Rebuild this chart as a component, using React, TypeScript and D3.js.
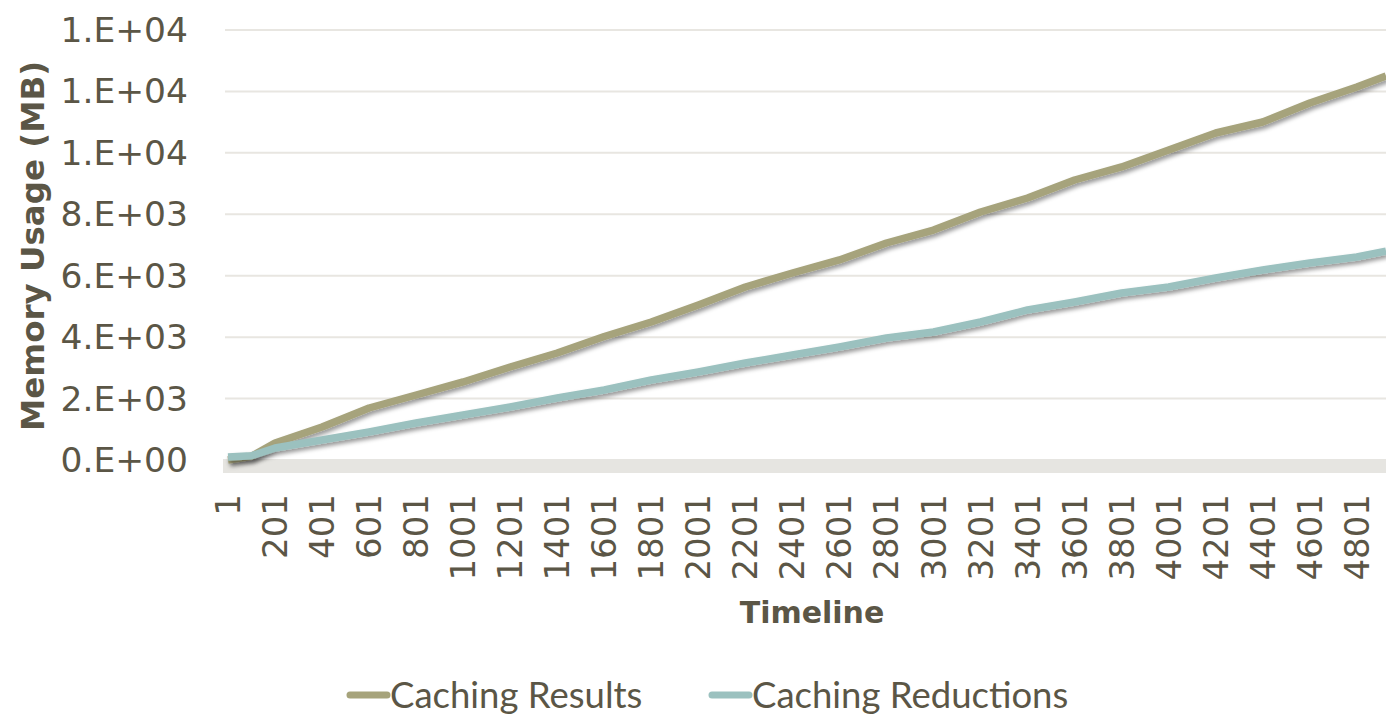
import React from "react";
import * as d3 from "d3";

const timeline = [1, 101, 201, 401, 601, 801, 1001, 1201, 1401, 1601, 1801, 2001, 2201, 2401, 2601, 2801, 3001, 3201, 3401, 3601, 3801, 4001, 4201, 4401, 4601, 4801, 4925];
const cachingResults = [0, 120, 553, 1074, 1693, 2116, 2540, 3028, 3484, 4020, 4493, 5047, 5633, 6088, 6512, 7065, 7488, 8074, 8530, 9116, 9540, 10093, 10647, 11005, 11623, 12144, 12500];
const cachingReductions = [100, 140, 390, 651, 912, 1205, 1465, 1726, 2019, 2279, 2605, 2865, 3158, 3419, 3679, 3972, 4167, 4493, 4884, 5144, 5437, 5633, 5926, 6186, 6414, 6609, 6800];
const xTickLabels = [1, 201, 401, 601, 801, 1001, 1201, 1401, 1601, 1801, 2001, 2201, 2401, 2601, 2801, 3001, 3201, 3401, 3601, 3801, 4001, 4201, 4401, 4601, 4801];
const yTicks = [0, 2000, 4000, 6000, 8000, 10000, 12000, 14000];
const seriesNames = ["Caching Results", "Caching Reductions"];
const seriesColors = ["#a6a37b", "#9bc1bf"];

const W = 1386;
const H = 717;
const textColor = "#5b5646";
const tickFont = "'DejaVu Sans', sans-serif";
const legendFont = "Lato, sans-serif";

function fmtExp(v: number): string {
  if (v === 0) return "0.E+00";
  const e = Math.floor(Math.log10(v));
  const m = Math.round(v / Math.pow(10, e));
  const s = String(Math.abs(e)).padStart(2, "0");
  return `${m}.E+${s}`;
}

export default function App() {
  const x = d3.scaleLinear().domain([1, 4925]).range([228, 1386]);
  const y = d3.scaleLinear().domain([0, 14000]).range([460, 30]);
  const line = d3
    .line<[number, number]>()
    .x((d) => x(d[0]))
    .y((d) => y(d[1]));
  const series = [cachingResults, cachingReductions].map((vals) =>
    timeline.map((t, i) => [t, vals[i]] as [number, number])
  );

  return (
    <svg
      width={W}
      height={H}
      style={{ position: "absolute", left: 0, top: 0, background: "#fff" }}
    >
      <defs>
        <filter id="shadow" x="-10%" y="-10%" width="120%" height="130%">
          <feDropShadow dx="2" dy="3" stdDeviation="2" floodColor="#000" floodOpacity="0.4" />
        </filter>
      </defs>
      {yTicks.slice(1).map((t) => (
        <line key={t} x1={225} x2={W} y1={y(t)} y2={y(t)} stroke="#e8e6e1" strokeWidth={2} />
      ))}
      <rect x={223} y={459} width={W - 223} height={14} fill="#e6e5e1" />
      {yTicks.map((t) => (
        <text
          key={t}
          x={188}
          y={y(t)}
          textAnchor="end"
          dominantBaseline="central"
          fontFamily={tickFont}
          fontSize={34.5}
          fill={textColor}
        >
          {fmtExp(t)}
        </text>
      ))}
      {xTickLabels.map((t) => (
        <text
          key={t}
          transform={`translate(${x(t)},494) rotate(-90)`}
          textAnchor="end"
          dominantBaseline="central"
          fontFamily={tickFont}
          fontSize={34}
          fill={textColor}
        >
          {t}
        </text>
      ))}
      {series.map((s, i) => (
        <path
          key={i}
          d={line(s) || ""}
          fill="none"
          stroke={seriesColors[i]}
          strokeWidth={7.5}
          strokeLinejoin="round"
          filter="url(#shadow)"
        />
      ))}
      <text
        transform="translate(33,246) rotate(-90)"
        textAnchor="middle"
        dominantBaseline="central"
        fontFamily={tickFont}
        fontWeight="bold"
        fontSize={32.5}
        fill={textColor}
      >
        Memory Usage (MB)
      </text>
      <text
        x={812}
        y={612}
        textAnchor="middle"
        dominantBaseline="central"
        fontFamily={tickFont}
        fontWeight="bold"
        fontSize={30}
        fill={textColor}
      >
        Timeline
      </text>
      {seriesNames.map((n, i) => {
        const lx = i === 0 ? 350 : 712;
        return (
          <g key={n}>
            <line x1={lx} x2={lx + 37} y1={695} y2={695} stroke={seriesColors[i]} strokeWidth={7} strokeLinecap="round" />
            <text
              x={lx + 40}
              y={694}
              dominantBaseline="central"
              fontFamily={legendFont}
              fontSize={36.5}
              fill={textColor}
            >
              {n}
            </text>
          </g>
        );
      })}
    </svg>
  );
}
